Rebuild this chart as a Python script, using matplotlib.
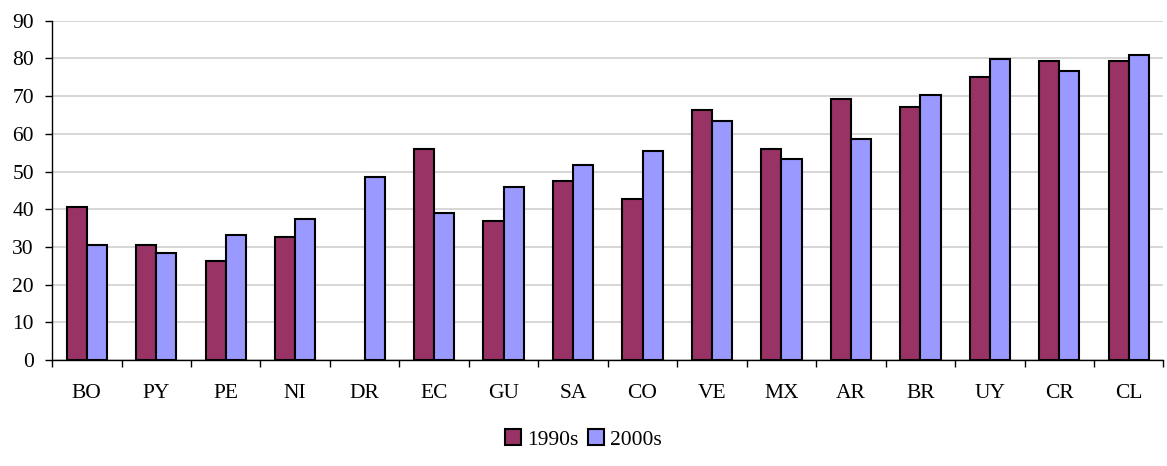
import numpy as np
import matplotlib.pyplot as plt
from matplotlib.ticker import FixedLocator, NullFormatter

countries = ['BO', 'PY', 'PE', 'NI', 'DR', 'EC', 'GU', 'SA', 'CO', 'VE',
             'MX', 'AR', 'BR', 'UY', 'CR', 'CL']
vals_1990s = [40.7, 30.5, 26.3, 32.7, np.nan, 56.0, 37.0, 47.6, 42.8, 66.2,
              56.0, 69.3, 67.2, 75.2, 79.3, 79.3]
vals_2000s = [30.5, 28.5, 33.2, 37.5, 48.6, 39.1, 46.0, 51.8, 55.5, 63.5,
              53.4, 58.7, 70.3, 79.8, 76.7, 81.0]
series_names = ['1990s', '2000s']
colors = ['#993366', '#9999FF']

plt.rcParams['font.family'] = ['Liberation Serif', 'DejaVu Serif']
plt.rcParams['font.size'] = 15.5

fig = plt.figure(figsize=(11.67, 4.66), dpi=100)
ax = fig.add_axes([0.0446, 0.2275, 0.9524, 0.728])

x = np.arange(len(countries))
w = 0.29
ax.bar(x - w / 2, vals_1990s, w, color=colors[0], edgecolor='black',
       linewidth=1.5, label=series_names[0], zorder=3)
ax.bar(x + w / 2, vals_2000s, w, color=colors[1], edgecolor='black',
       linewidth=1.5, label=series_names[1], zorder=3)

ax.set_xlim(-0.5, len(countries) - 0.5)
ax.set_ylim(0, 90)
ax.set_yticks(np.arange(0, 91, 10))
ax.yaxis.grid(True, color='#d0d0d0', linewidth=1.2, zorder=0)
ax.set_axisbelow(True)

# category labels centred, tick marks between groups
ax.xaxis.set_major_locator(FixedLocator(np.arange(-0.5, len(countries), 1.0)))
ax.xaxis.set_major_formatter(NullFormatter())
ax.xaxis.set_minor_locator(FixedLocator(x))
ax.set_xticklabels(countries, minor=True)
ax.tick_params(axis='x', which='major', length=5, width=1, direction='out')
ax.tick_params(axis='x', which='minor', length=0, pad=17)
ax.tick_params(axis='y', length=5, width=1, pad=8)

for s in ['top', 'right']:
    ax.spines[s].set_visible(False)
ax.spines['left'].set_linewidth(1)
ax.spines['bottom'].set_linewidth(1)

fig.legend(loc='center', bbox_to_anchor=(0.5, 0.057), ncol=2, frameon=False,
           handlelength=0.75, handleheight=0.75, handletextpad=0.3,
           columnspacing=0.4)

fig.savefig('out.png', dpi=100)
